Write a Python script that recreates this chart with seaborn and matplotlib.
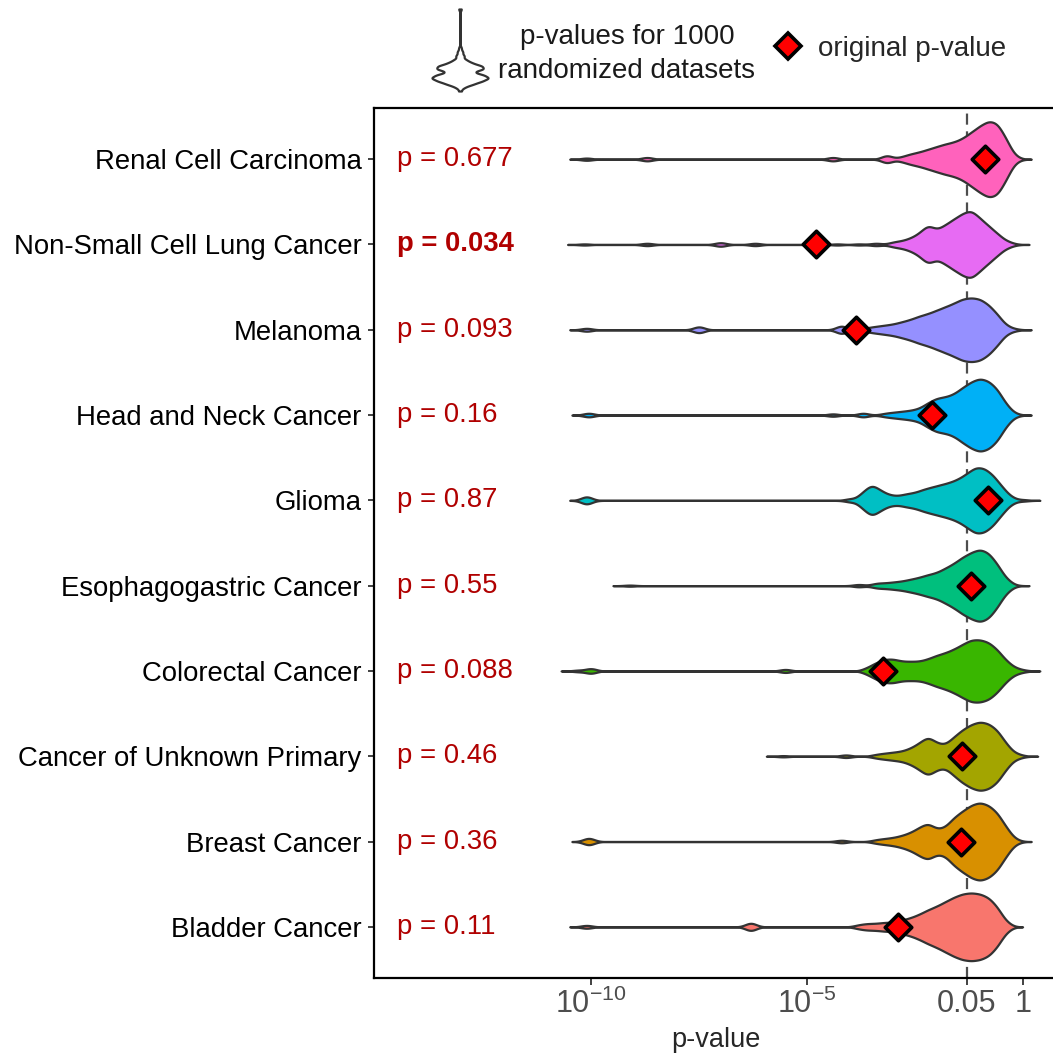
import numpy as np
import pandas as pd
import matplotlib
matplotlib.use("Agg")
import matplotlib.pyplot as plt
import matplotlib.transforms as mtransforms
from matplotlib.lines import Line2D
from matplotlib.ticker import NullLocator
import seaborn as sns

# ---------------- data ----------------
categories = ["Renal Cell Carcinoma", "Non-Small Cell Lung Cancer", "Melanoma",
              "Head and Neck Cancer", "Glioma", "Esophagogastric Cancer",
              "Colorectal Cancer", "Cancer of Unknown Primary", "Breast Cancer",
              "Bladder Cancer"]
colors = ["#FF62BC", "#E76BF3", "#9590FF", "#00B0F6", "#00BFC4", "#00BF7D",
          "#39B600", "#A3A500", "#D89000", "#F8766D"]
empirical_p = ["0.677", "0.034", "0.093", "0.16", "0.87", "0.55", "0.088",
               "0.46", "0.36", "0.11"]
original_log10p = [-0.88, -4.79, -3.87, -2.10, -0.82, -1.20, -3.24, -1.42, -1.43, -2.90]

# randomized p-values (log10) and relative number of datasets at each value
renal_log10p = [-10.1, -8.7, -4.4, -3.15, -2.8, -2.6, -2.4, -2.2, -2.0, -1.8, -1.6,
                -1.4, -1.2, -1.0, -0.8, -0.6, -0.4, -0.2]
renal_counts = [2, 3, 3, 6, 3, 6, 8, 11, 14, 17, 19, 23, 30, 37, 43, 41, 24, 4]

nsclc_log10p = [-10.15, -8.7, -7.0, -6.2, -4.3, -3.8, -3.4, -3.0, -2.8, -2.6, -2.4,
                -2.2, -2.0, -1.8, -1.6, -1.4, -1.2, -1.0, -0.8, -0.6, -0.4, -0.25]
nsclc_counts = [1, 2, 3, 2, 1, 1, 2, 3, 4, 7, 12, 22, 15, 21, 27, 33, 37, 28, 20,
                12, 4, 1]

melanoma_log10p = [-10.1, -7.5, -4.2, -3.6, -3.4, -3.2, -3.0, -2.8, -2.6, -2.4, -2.2,
                   -2.0, -1.8, -1.6, -1.4, -1.2, -1.0, -0.8, -0.6, -0.4, -0.2]
melanoma_counts = [2, 4, 5, 2, 3, 4, 5, 7, 9, 12, 14, 17, 20, 23, 27, 28, 27, 22,
                   14, 4, 1]

headneck_log10p = [-10.05, -4.4, -3.7, -3.2, -3.0, -2.8, -2.6, -2.4, -2.2, -2.0, -1.8,
                   -1.6, -1.4, -1.2, -1.0, -0.8, -0.6, -0.4, -0.2]
headneck_counts = [3, 2, 3, 2, 3, 4, 5, 7, 13, 18, 19, 22, 29, 35, 39, 36, 28, 12, 2]

glioma_log10p = [-10.1, -4.0, -3.7, -3.5, -3.3, -3.1, -2.9, -2.7, -2.5, -2.3, -2.1,
                 -1.9, -1.7, -1.5, -1.3, -1.1, -0.9, -0.7, -0.5, -0.3, 0.0]
glioma_counts = [5, 2, 8, 15, 9, 5, 4, 6, 7, 10, 12, 14, 16, 19, 24, 30, 29, 23, 13,
                 4, 1]

esoph_log10p = [-9.1, -3.8, -3.4, -3.2, -3.0, -2.8, -2.6, -2.4, -2.2, -2.0, -1.8,
                -1.6, -1.4, -1.2, -1.0, -0.8, -0.6, -0.4, -0.25]
esoph_counts = [1, 2, 3, 3, 4, 5, 7, 9, 12, 14, 19, 24, 31, 36, 40, 36, 24, 8, 1]

colorectal_log10p = [-10.3, -10.0, -5.5, -3.6, -3.4, -3.2, -3.0, -2.8, -2.6, -2.4,
                     -2.2, -2.0, -1.8, -1.6, -1.4, -1.2, -1.0, -0.8, -0.6, -0.4,
                     -0.2, 0.0]
colorectal_counts = [1, 3, 2, 3, 7, 10, 10, 8, 8, 8, 10, 13, 15, 18, 22, 26, 26, 24,
                     18, 9, 3, 1]

cup_log10p = [-5.55, -4.1, -3.4, -3.2, -3.0, -2.8, -2.6, -2.4, -2.2, -2.0, -1.8,
              -1.6, -1.4, -1.2, -1.0, -0.8, -0.6, -0.4, -0.2, -0.05]
cup_counts = [1, 2, 2, 3, 4, 5, 8, 13, 20, 13, 11, 19, 26, 31, 34, 32, 26, 13, 3, 1]

breast_log10p = [-10.05, -4.2, -3.4, -3.2, -3.0, -2.8, -2.6, -2.4, -2.2, -2.0, -1.8,
                 -1.6, -1.4, -1.2, -1.0, -0.8, -0.6, -0.4, -0.2]
breast_counts = [5, 2, 2, 3, 4, 6, 9, 14, 19, 12, 14, 24, 30, 36, 39, 36, 29, 15, 3]

bladder_log10p = [-10.1, -6.3, -3.8, -3.6, -3.4, -3.2, -3.0, -2.8, -2.6, -2.4, -2.2,
                  -2.0, -1.8, -1.6, -1.4, -1.2, -1.0, -0.8, -0.6, -0.4]
bladder_counts = [2, 5, 2, 3, 3, 4, 4, 6, 8, 11, 15, 18, 22, 26, 29, 30, 29, 26, 18, 5]

# legend key glyph (vertical violin, pixel units from top)
glyph_px = [9, 48, 52, 56, 60, 63, 66, 69, 72, 75, 78, 81, 84, 87, 91]
glyph_counts = [1, 1, 2, 3, 4, 7, 13, 14, 7, 14, 17, 13, 8, 3, 1]

series = [
    (renal_log10p, renal_counts), (nsclc_log10p, nsclc_counts),
    (melanoma_log10p, melanoma_counts), (headneck_log10p, headneck_counts),
    (glioma_log10p, glioma_counts), (esoph_log10p, esoph_counts),
    (colorectal_log10p, colorectal_counts), (cup_log10p, cup_counts),
    (breast_log10p, breast_counts), (bladder_log10p, bladder_counts),
]

frames = []
for cat, (lp, cnt) in zip(categories, series):
    vals = np.repeat(10.0 ** np.asarray(lp, dtype=float), cnt)
    frames.append(pd.DataFrame({"pvalue": vals, "cancer": cat}))
df = pd.concat(frames, ignore_index=True)


def fixed_bw(bw):
    def f(k):
        return bw / np.std(k.dataset, ddof=1)
    return f


# ---------------- style ----------------
sns.set_style("white")
plt.rcParams["font.family"] = ["Liberation Sans", "DejaVu Sans"]
plt.rcParams["mathtext.fontset"] = "custom"
plt.rcParams["mathtext.rm"] = "Liberation Sans"
plt.rcParams["mathtext.it"] = "Liberation Sans:italic"
plt.rcParams["mathtext.bf"] = "Liberation Sans:bold"
plt.rcParams["axes.unicode_minus"] = False

W, H = 1053, 1057
fig = plt.figure(figsize=(W / 100, H / 100), dpi=100)
fig.patch.set_facecolor("white")
ax = fig.add_axes([374 / W, 1 - 978 / H, 684 / W, 870 / H])

ax.axvline(0.05, color="#4D4D4D", lw=1.6, ls=(0, (5, 3)), zorder=0.5)

sns.violinplot(data=df, x="pvalue", y="cancer", hue="cancer", order=categories,
               hue_order=categories, palette=dict(zip(categories, colors)),
               saturation=1, inner=None, cut=3, gridsize=1200,
               bw_method=fixed_bw(0.13), density_norm="count", common_norm=True,
               width=0.9, linewidth=1.6, linecolor="#333333", log_scale=True,
               legend=False, ax=ax)

sns.stripplot(x=10.0 ** np.asarray(original_log10p), y=categories, order=categories,
              jitter=False, marker="D", size=13.5, color="red", edgecolor="black",
              linewidth=2.6, ax=ax, zorder=5, log_scale=True)

ax.set_xlim(10 ** -15.02, 10 ** 0.81)
ax.set_ylim(9.6, -0.6)
ax.set_xticks([1e-10, 1e-5, 0.05, 1])
ax.set_xticklabels([r"$10^{-10}$", r"$10^{-5}$", "0.05", "1"])
ax.xaxis.set_minor_locator(NullLocator())
ax.tick_params(axis="x", length=5, width=1.3, color="#333333", labelcolor="#4D4D4D",
               labelsize=22, pad=3, bottom=True)
ax.tick_params(axis="y", length=4, width=1.3, color="#333333", labelcolor="black",
               labelsize=19.8, pad=5, left=True)
ax.set_xlabel("p-value", fontsize=19.5, labelpad=5)
ax.set_ylabel("")
for s in ["top", "left", "bottom"]:
    ax.spines[s].set_linewidth(1.6)
    ax.spines[s].set_color("black")
ax.spines["right"].set_visible(False)
ax.grid(False)

trans = mtransforms.blended_transform_factory(ax.transAxes, ax.transData)
for i, p in enumerate(empirical_p):
    ax.text(0.0336, i, f"p = {p}", transform=trans, ha="left", va="center",
            fontsize=19.8, color="#B00000",
            fontweight="bold" if float(p) < 0.05 else "normal")

# ---------------- legend ----------------
lax = fig.add_axes([420 / W, 1 - 95 / H, 80 / W, 90 / H])
sns.violinplot(y=np.repeat(np.asarray(glyph_px, dtype=float), glyph_counts),
               color="white", saturation=1, inner=None, cut=0, gridsize=400,
               bw_method=fixed_bw(1.7), width=0.7, linewidth=1.6,
               linecolor="#333333", ax=lax)
lax.set_xlim(-0.5, 0.5)
lax.set_ylim(95, 5)
lax.axis("off")

fig.text(627 / W, 1 - 54 / H, "p-values for 1000\nrandomized datasets", ha="center",
         va="center", fontsize=20, linespacing=1.4, color="#1A1A1A")

handle = Line2D([0], [0], marker="D", linestyle="none", markersize=13.5,
                markerfacecolor="red", markeredgecolor="black", markeredgewidth=2.6)
fig.legend(handles=[handle], labels=["original p-value"], loc="center left",
           bbox_to_anchor=(771 / W, 1 - 49 / H), frameon=False, fontsize=20,
           handlelength=1.2, handletextpad=0.5, borderpad=0, borderaxespad=0)

fig.savefig("out.png", dpi=100, facecolor="white")
